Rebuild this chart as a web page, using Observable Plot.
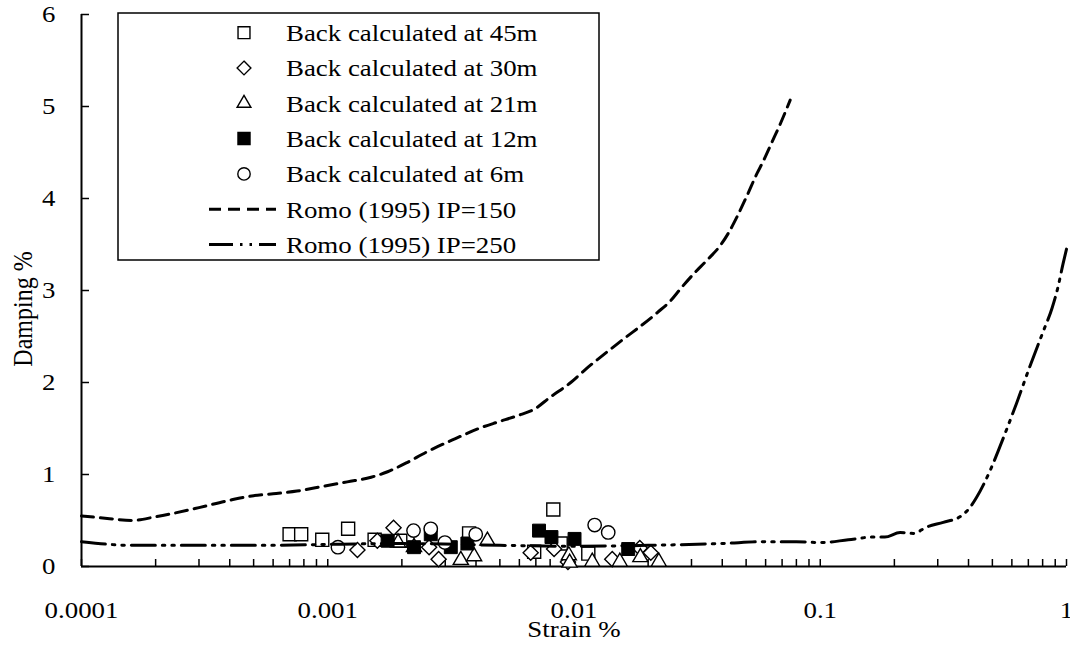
<!DOCTYPE html>
<html>
<head>
<meta charset="utf-8">
<script src="https://cdn.jsdelivr.net/npm/d3@7"></script>
<script src="https://cdn.jsdelivr.net/npm/@observablehq/plot@0.6"></script>
<style>
  html, body { margin: 0; padding: 0; background: white; }
  #wrap { position: relative; width: 1070px; height: 651px; }
  #wrap svg { display: block; }
  #legend { position: absolute; left: 0; top: 0; }
</style>
</head>
<body>
<div id="wrap"></div>
<script>
// ---- Data (strain %, damping %) ----
const xTicks = [0.0001, 0.001, 0.01, 0.1, 1];
const yTicks = [0, 1, 2, 3, 4, 5, 6];
const xLabel = "Strain %";
const yLabel = "Damping %";

const seriesNames = [
  "Back calculated at 45m",
  "Back calculated at 30m",
  "Back calculated at 21m",
  "Back calculated at 12m",
  "Back calculated at 6m",
  "Romo (1995) IP=150",
  "Romo (1995) IP=250"
];

const pts45 = [
  [0.00070, 0.35], [0.00078, 0.35], [0.00095, 0.29], [0.00121, 0.41],
  [0.00155, 0.29], [0.00197, 0.28], [0.00375, 0.36], [0.00689, 0.16],
  [0.00824, 0.62], [0.00883, 0.25], [0.01143, 0.14]
];
const pts30 = [
  [0.00132, 0.18], [0.00159, 0.28], [0.00185, 0.42], [0.00258, 0.21],
  [0.00282, 0.08], [0.00667, 0.15], [0.00830, 0.19], [0.00945, 0.05],
  [0.01430, 0.08], [0.01850, 0.20], [0.02050, 0.15]
];
const pts21 = [
  [0.00193, 0.26], [0.00224, 0.21], [0.00347, 0.07], [0.00393, 0.11],
  [0.00445, 0.28], [0.00953, 0.12], [0.00960, 0.04], [0.01186, 0.05],
  [0.01535, 0.05], [0.01860, 0.10], [0.02210, 0.05]
];
const pts12 = [
  [0.00175, 0.28], [0.00224, 0.21], [0.00262, 0.35], [0.00316, 0.21],
  [0.00369, 0.25], [0.00721, 0.39], [0.00810, 0.32], [0.01005, 0.30],
  [0.01660, 0.19]
];
const pts6 = [
  [0.00110, 0.21], [0.00223, 0.39], [0.00262, 0.41], [0.00299, 0.26],
  [0.00399, 0.35], [0.01213, 0.45], [0.01377, 0.37]
];

const romo150 = [
  [0.0001, 0.55], [0.00013, 0.52], [0.00016, 0.50], [0.0002, 0.54],
  [0.0003, 0.64], [0.0004, 0.72], [0.0005, 0.77], [0.0006, 0.79],
  [0.00075, 0.82], [0.00095, 0.87], [0.0012, 0.92], [0.0015, 0.97],
  [0.00175, 1.03], [0.0021, 1.13], [0.0025, 1.24], [0.0033, 1.39],
  [0.0042, 1.51], [0.0049, 1.57], [0.0059, 1.64], [0.0069, 1.71],
  [0.008, 1.84], [0.0097, 2.0], [0.011, 2.13], [0.015, 2.42],
  [0.0218, 2.76], [0.0247, 2.89], [0.0271, 3.02], [0.0306, 3.18],
  [0.0347, 3.33], [0.0393, 3.49], [0.0425, 3.63], [0.0459, 3.80],
  [0.0504, 4.03], [0.0553, 4.27], [0.0588, 4.41], [0.0636, 4.61],
  [0.0688, 4.81], [0.0755, 5.07]
];
const romo250 = [
  [0.0001, 0.27], [0.00016, 0.23], [0.0003, 0.23], [0.0006, 0.23],
  [0.001, 0.24], [0.002, 0.25], [0.005, 0.23], [0.01, 0.22],
  [0.02, 0.23], [0.04, 0.25], [0.06, 0.27], [0.08, 0.27],
  [0.1, 0.26], [0.13, 0.29], [0.164, 0.32], [0.183, 0.32],
  [0.211, 0.37], [0.239, 0.36], [0.271, 0.43], [0.316, 0.48],
  [0.369, 0.54], [0.405, 0.64], [0.431, 0.75], [0.489, 1.04],
  [0.536, 1.30], [0.579, 1.53], [0.626, 1.77], [0.709, 2.17],
  [0.803, 2.55], [0.874, 2.81], [0.924, 3.04], [0.968, 3.29],
  [1.0, 3.45]
];

// ---- Build chart ----
const toObj = a => a.map(([x, y]) => ({x, y}));
const FONT = "'Liberation Serif', 'Times New Roman', serif";
const STRETCH = 1.12; // reference text is horizontally widened
const minorTicks = d3.scaleLog().domain([1e-4, 1]).ticks();
const W = 1070, H = 651;
const mL = 81, mR = 4, mT = 14, mB = 85;
const frameW = W - mL - mR, frameH = H - mT - mB;

const dash150 = "12,7";
const dash250 = "24,7,2.5,7,2.5,7";

const chart = Plot.plot({
  width: W, height: H,
  marginLeft: mL, marginRight: mR, marginTop: mT, marginBottom: mB,
  x: {type: "log", domain: [1e-4, 1]},
  y: {domain: [0, 6]},
  style: {fontFamily: FONT, fontSize: "24px", color: "black", background: "white", overflow: "visible"},
  marks: [
    Plot.ruleX(minorTicks, {x: d => d, insetTop: frameH - 7, stroke: "black", strokeWidth: 1.5}),
    Plot.ruleY(yTicks, {y: d => d, insetRight: frameW - 8, stroke: "black", strokeWidth: 1.5}),
    Plot.axisX({ticks: xTicks, tickSize: 0, tickPadding: 34, tickFormat: d => String(d), label: null, fontSize: 24}),
    Plot.axisY({ticks: yTicks, tickSize: 0, tickPadding: 26, tickFormat: d => String(d), label: null, fontSize: 24}),
    Plot.ruleY([0], {stroke: "black", strokeWidth: 2}),
    Plot.ruleX([1e-4], {stroke: "black", strokeWidth: 2}),
    Plot.text([xLabel], {text: d => d, frameAnchor: "bottom", dy: 70, fontSize: 24}),
    // scatter series
    Plot.dot(toObj(pts45), {x: "x", y: "y", symbol: "square2", r: 8.3, stroke: "black", fill: "white", strokeWidth: 1.4}),
    Plot.dot(toObj(pts30), {x: "x", y: "y", symbol: "diamond2", r: 6.8, stroke: "black", fill: "white", strokeWidth: 1.4}),
    Plot.dot(toObj(pts21), {x: "x", y: "y", symbol: "triangle2", r: 7.2, stroke: "black", fill: "white", strokeWidth: 1.4}),
    Plot.dot(toObj(pts12), {x: "x", y: "y", symbol: "square", r: 7.3, fill: "black", stroke: "black", strokeWidth: 1}),
    Plot.dot(toObj(pts6), {x: "x", y: "y", symbol: "circle", r: 6.7, stroke: "black", fill: "white", strokeWidth: 1.4}),
    // curves
    Plot.line(toObj(romo150), {x: "x", y: "y", stroke: "black", strokeWidth: 3, strokeDasharray: dash150, curve: "monotone-x"}),
    Plot.line(toObj(romo250), {x: "x", y: "y", stroke: "black", strokeWidth: 3, strokeDasharray: dash250, curve: "monotone-x"})
  ]
});

const wrap = document.getElementById("wrap");
wrap.appendChild(chart);

// ---- Legend and y-axis title overlay ----
const lg = d3.select(wrap).append("svg")
  .attr("id", "legend")
  .attr("width", W).attr("height", H)
  .style("pointer-events", "none");

lg.append("text")
  .attr("transform", `translate(32,309) scale(${STRETCH},1) rotate(-90)`)
  .attr("text-anchor", "middle")
  .attr("font-family", FONT).attr("font-size", 24)
  .attr("class", "nostretch")
  .text(yLabel);

const box = {x: 118, y: 13, w: 481, h: 247};
lg.append("rect")
  .attr("x", box.x).attr("y", box.y).attr("width", box.w).attr("height", box.h)
  .attr("fill", "white").attr("stroke", "black").attr("stroke-width", 1.5);

const rowY0 = 32.7, rowStep = 35.3;
const markerX = 244, textX = 286;
const symSpecs = [
  {type: d3.symbolSquare2, r: 7.6, fill: "white"},
  {type: d3.symbolDiamond2, r: 6.2, fill: "white"},
  {type: d3.symbolTriangle2, r: 6.6, fill: "white"},
  {type: d3.symbolSquare, r: 6.8, fill: "black"},
  {type: d3.symbolCircle, r: 6.2, fill: "white"}
];
seriesNames.forEach((name, i) => {
  const cy = rowY0 + i * rowStep;
  if (i < 5) {
    const s = symSpecs[i];
    lg.append("path")
      .attr("transform", `translate(${markerX},${cy})`)
      .attr("d", d3.symbol(s.type, Math.PI * s.r * s.r)())
      .attr("fill", s.fill).attr("stroke", "black").attr("stroke-width", 1.4);
  } else {
    lg.append("line")
      .attr("x1", 209).attr("x2", 276).attr("y1", cy).attr("y2", cy)
      .attr("stroke", "black").attr("stroke-width", 3)
      .attr("stroke-dasharray", i === 5 ? dash150 : dash250);
  }
  lg.append("text")
    .attr("x", textX).attr("y", cy).attr("dy", "0.35em")
    .attr("font-family", FONT).attr("font-size", 24)
    .text(name);
});

// widen text horizontally to match the reference's stretched lettering
function stretchTexts(root) {
  root.querySelectorAll("text").forEach(t => {
    if (t.classList.contains("nostretch")) return;
    const L = t.getComputedTextLength();
    if (L > 0) {
      t.setAttribute("textLength", (L * STRETCH).toFixed(1));
      t.setAttribute("lengthAdjust", "spacingAndGlyphs");
    }
  });
}
stretchTexts(chart);
stretchTexts(lg.node());
</script>
</body>
</html>
